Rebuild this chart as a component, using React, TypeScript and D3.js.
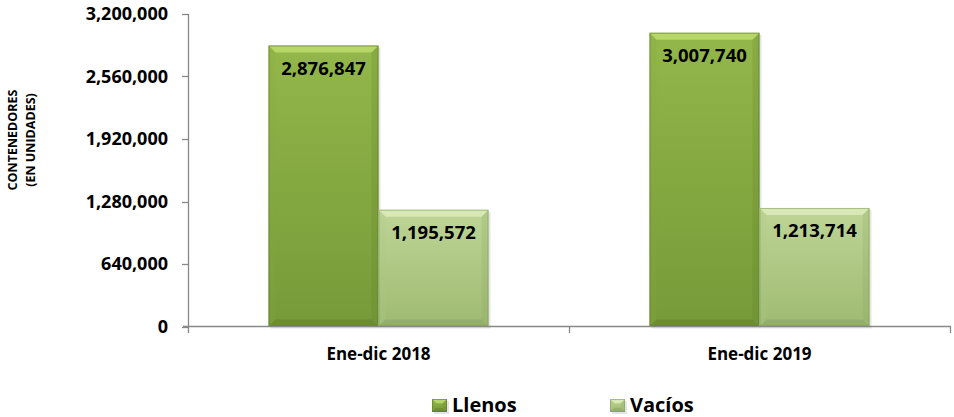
import React from "react";
import * as d3 from "d3";

const categories = ["Ene-dic 2018", "Ene-dic 2019"];
const seriesNames = ["Llenos", "Vacíos"];
const llenos = [2876847, 3007740];
const vacios = [1195572, 1213714];
const yTicks = [0, 640000, 1280000, 1920000, 2560000, 3200000];
const yTitle = ["CONTENEDORES", "(EN UNIDADES)"];

const W = 954;
const H = 417;
const FONT = "'Open Sans', Lato, sans-serif";

const palette: Record<string, { top: string; bottom: string; bevelTop: string; bevelSide: string; bevelBottom: string; edge: string }> = {
  Llenos: { top: "#93b74a", bottom: "#769a38", bevelTop: "#b8d86c", bevelSide: "#86a842", bevelBottom: "#5f7e2a", edge: "#59752a" },
  Vacíos: { top: "#bed596", bottom: "#9fbb72", bevelTop: "#d9eab8", bevelSide: "#b0c985", bevelBottom: "#86a25c", edge: "#7f9a58" },
};

function Bar({ x, y, w, h, s, id }: { x: number; y: number; w: number; h: number; s: string; id: string }) {
  const c = palette[s];
  const b = Math.min(7, h / 3, w / 3);
  return (
    <g>
      <defs>
        <linearGradient id={id} x1="0" y1="0" x2="0" y2="1">
          <stop offset="0" stopColor={c.top} />
          <stop offset="1" stopColor={c.bottom} />
        </linearGradient>
      </defs>
      <rect x={x + 2} y={y + 2} width={w} height={h} fill="#000" opacity={0.1} />
      <rect x={x} y={y} width={w} height={h} fill={`url(#${id})`} />
      <polygon points={`${x},${y} ${x + w},${y} ${x + w - b},${y + b} ${x + b},${y + b}`} fill={c.bevelTop} opacity={0.95} />
      <polygon points={`${x},${y} ${x + b},${y + b} ${x + b},${y + h - b} ${x},${y + h}`} fill={c.bevelSide} opacity={0.2} />
      <polygon points={`${x + w},${y} ${x + w - b},${y + b} ${x + w - b},${y + h - b} ${x + w},${y + h}`} fill={c.bevelBottom} opacity={0.2} />
      <polygon points={`${x},${y + h} ${x + w},${y + h} ${x + w - b},${y + h - b} ${x + b},${y + h - b}`} fill={c.bevelBottom} opacity={0.5} />
      <rect x={x + 0.5} y={y + 0.5} width={w - 1} height={h - 1} fill="none" stroke={c.edge} strokeOpacity={0.55} strokeWidth={1} />
    </g>
  );
}

export default function App() {
  const y = d3.scaleLinear().domain([0, 3200000]).range([326.5, 14]);
  const x = d3.scaleBand<string>().domain(categories).range([188, 950]).paddingInner(0.4226).paddingOuter(0.2113);
  const xs = d3.scaleBand<string>().domain(seriesNames).range([0, x.bandwidth()]);
  const fmt = d3.format(",");
  const values: Record<string, number[]> = { Llenos: llenos, Vacíos: vacios };
  const axisColor = "#888888";
  const step = x.step();
  const boundaries = [188, ...categories.map((c) => (x(c) as number) - x.paddingOuter() * step + step)];

  return (
    <svg width={W} height={H} style={{ position: "absolute", left: 0, top: 0, background: "#fff" }}>
      {/* y title */}
      {yTitle.map((t, i) => (
        <text key={t} transform={`translate(${17 + i * 18},140) rotate(-90)`} textAnchor="middle" fontFamily={FONT} fontWeight={700} fontSize={12.5} fill="#000">
          {t}
        </text>
      ))}
      {/* y axis */}
      <line x1={188.5} x2={188.5} y1={14} y2={327} stroke={axisColor} strokeWidth={1.3} />
      {yTicks.map((t) => (
        <g key={t}>
          <line x1={182} x2={188.5} y1={Math.round(y(t)) + 0.5} y2={Math.round(y(t)) + 0.5} stroke={axisColor} strokeWidth={1.3} />
          <text x={168} y={y(t)} dy="0.36em" textAnchor="end" fontFamily={FONT} fontWeight={700} fontSize={18} fill="#000">
            {fmt(t)}
          </text>
        </g>
      ))}
      {/* bars */}
      {categories.map((c, ci) =>
        seriesNames.map((s) => {
          const v = values[s][ci];
          const bx = (x(c) as number) + (xs(s) as number);
          const by = y(v);
          const bw = xs.bandwidth();
          const bh = y(0) - by;
          return (
            <g key={c + s}>
              <Bar x={bx} y={by} w={bw} h={bh} s={s} id={`g${ci}${s === "Llenos" ? 0 : 1}`} />
              <text x={bx + bw / 2} y={by + 29} textAnchor="middle" fontFamily={FONT} fontWeight={700} fontSize={18.5} fill="#000">
                {fmt(v)}
              </text>
            </g>
          );
        })
      )}
      {/* x axis */}
      <line x1={183} x2={951} y1={326.5} y2={326.5} stroke={axisColor} strokeWidth={1.3} />
      {boundaries.map((bx, i) => (
        <line key={i} x1={Math.round(bx) + 0.5} x2={Math.round(bx) + 0.5} y1={326.5} y2={333} stroke={axisColor} strokeWidth={1.3} />
      ))}
      {categories.map((c) => (
        <text key={c} x={(x(c) as number) + x.bandwidth() / 2} y={360} textAnchor="middle" fontFamily={FONT} fontWeight={700} fontSize={17} fill="#000">
          {c}
        </text>
      ))}
      {/* legend */}
      {seriesNames.map((s, i) => {
        const lx = 432 + i * 178;
        return (
          <g key={s}>
            <Bar x={lx} y={399} w={15} h={13} s={s} id={`leg${i}`} />
            <text x={lx + 20} y={411.5} fontFamily={FONT} fontWeight={700} fontSize={20} fill="#000">
              {s}
            </text>
          </g>
        );
      })}
    </svg>
  );
}
